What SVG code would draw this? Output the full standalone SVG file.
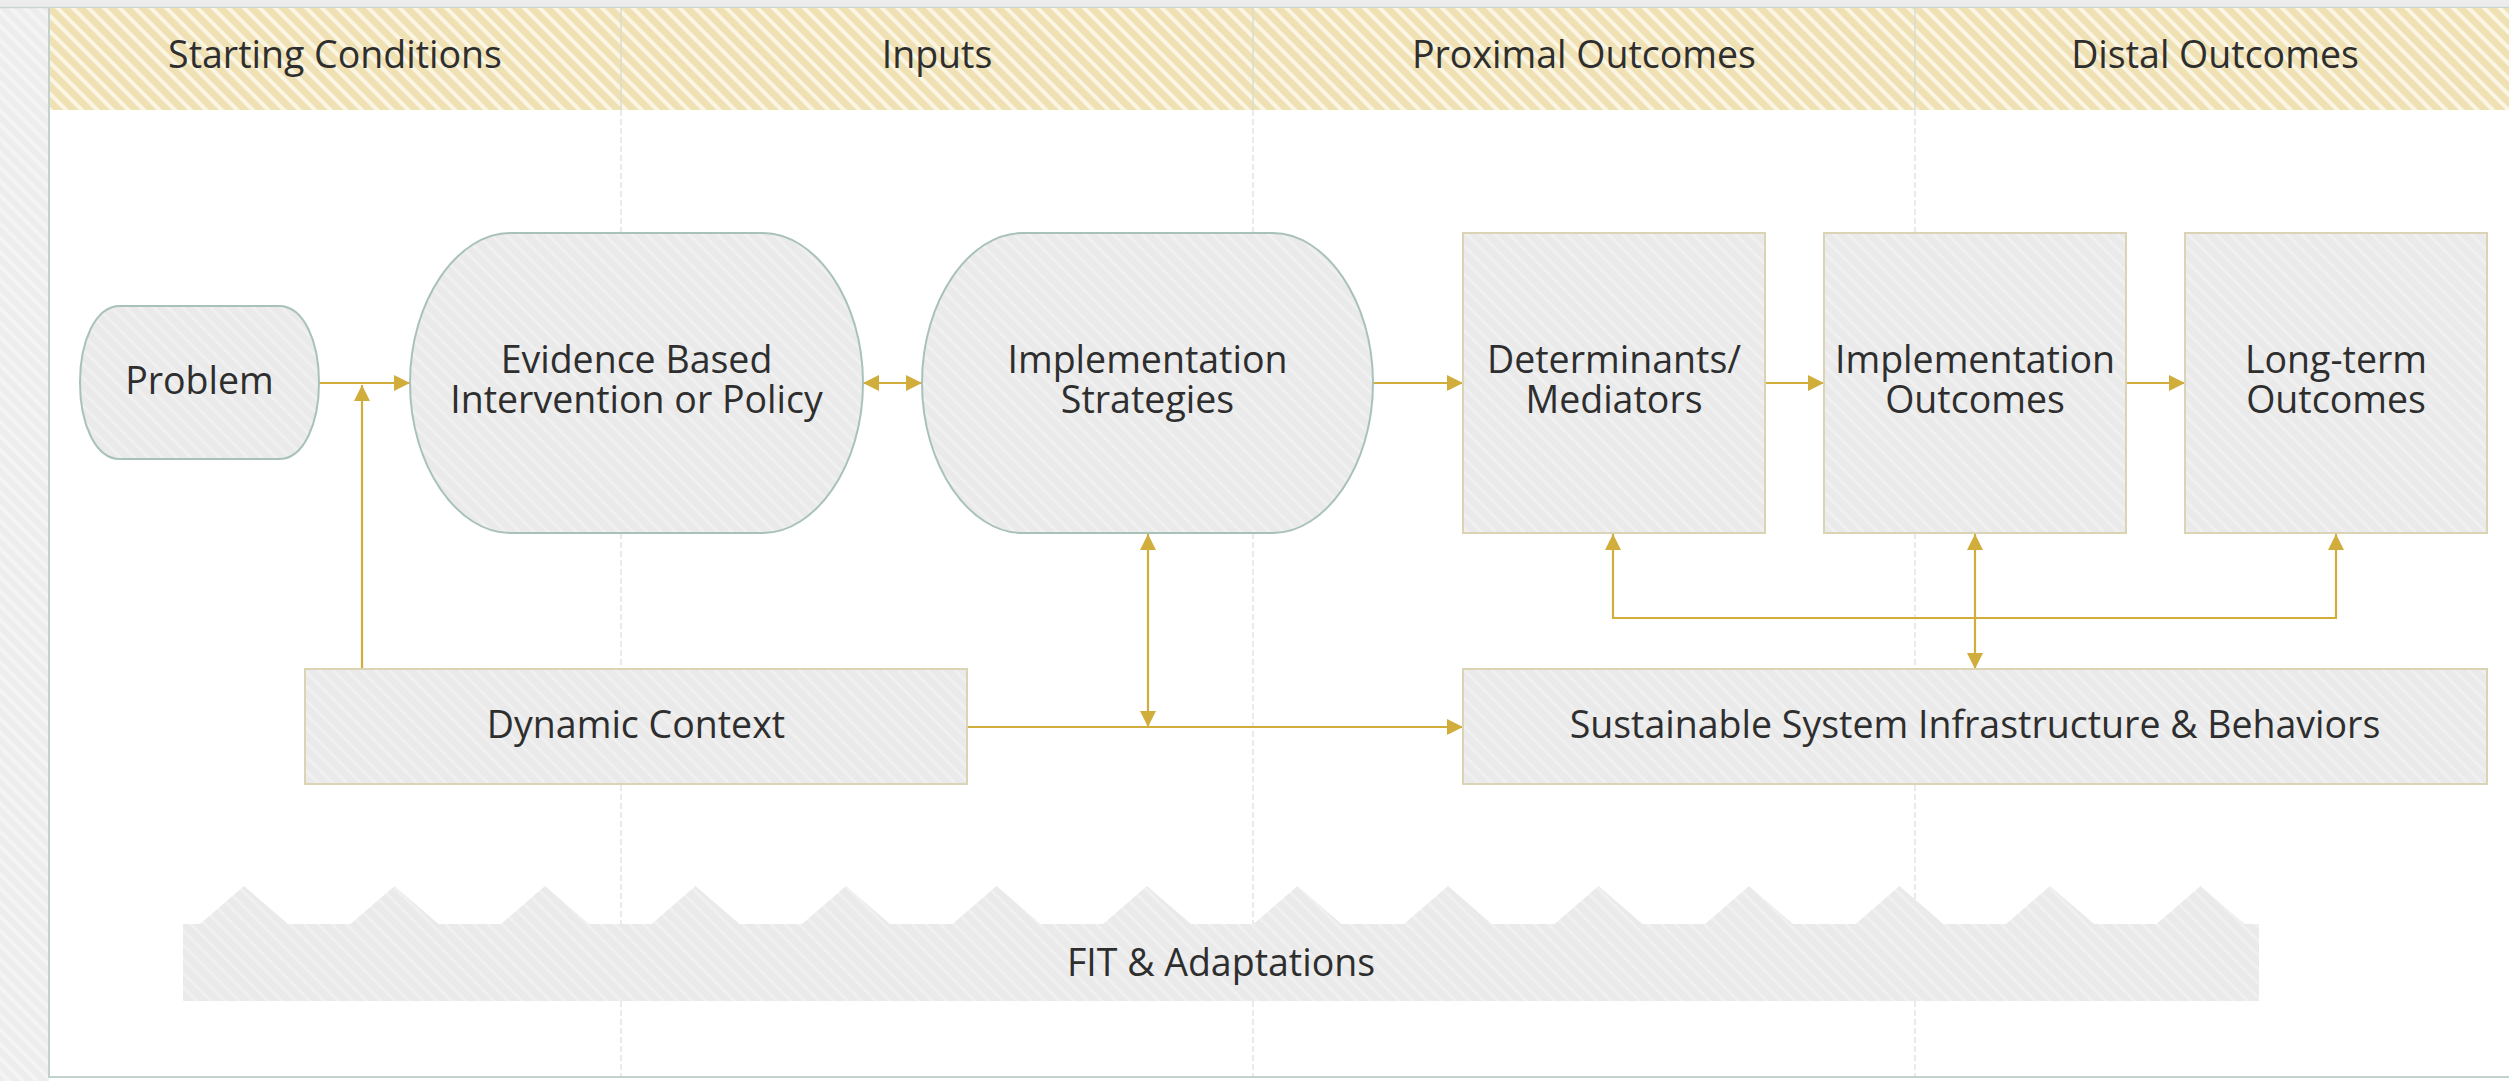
<svg xmlns="http://www.w3.org/2000/svg" width="2509" height="1081" viewBox="0 0 2509 1081">
  <defs>
    <pattern id="hatchHeader" width="11" height="11" patternUnits="userSpaceOnUse" patternTransform="rotate(-45)">
      <rect width="11" height="11" fill="#EFE1B3"/>
      <rect width="4" height="11" fill="#FBF5E4"/>
    </pattern>
    <pattern id="hatchNode" width="10" height="10" patternUnits="userSpaceOnUse" patternTransform="rotate(-45)">
      <rect width="10" height="10" fill="#EAEAEA"/>
      <rect width="3" height="10" fill="#F0F0F0"/>
    </pattern>
    <pattern id="hatchSide" width="10" height="10" patternUnits="userSpaceOnUse" patternTransform="rotate(-45)">
      <rect width="10" height="10" fill="#EDEDED"/>
      <rect width="4" height="10" fill="#F4F4F4"/>
    </pattern>
    <marker id="arr" viewBox="0 0 10 10" refX="10" refY="5" markerWidth="17" markerHeight="16" markerUnits="userSpaceOnUse" orient="auto-start-reverse">
      <path d="M0,0 L10,5 L0,10 Z" fill="#D1AD3B"/>
    </marker>
    <style>
      .lbl { font-family: "Open Sans", "Noto Sans", "Liberation Sans", sans-serif; font-size: 37.5px; fill: #2E2E2E; text-anchor: middle; }
      .round { fill: url(#hatchNode); stroke: #A9C2B9; stroke-width: 2; }
      .box { fill: url(#hatchNode); stroke: #DAD4B4; stroke-width: 2; }
      .conn { fill: none; stroke: #D1AD3B; stroke-width: 2.2; }
      .div { stroke: #E2E4E3; stroke-width: 1.5; stroke-dasharray: 6 3; }
      .hdiv { stroke: #D8DCCF; stroke-width: 1.5; }
    </style>
  </defs>

  <!-- background frame -->
  <g id="frame">
    <rect x="0" y="0" width="2509" height="1081" fill="#FFFFFF"/>
    <rect x="0" y="0" width="2509" height="8" fill="#ECECEC"/>
    <rect x="0" y="8" width="49" height="1073" fill="url(#hatchSide)"/>
    <line x1="49" y1="8" x2="49" y2="1078" stroke="#C3D2CC" stroke-width="2"/>
    <line x1="0" y1="7.5" x2="2509" y2="7.5" stroke="#C9D5D0" stroke-width="1.5"/>
    <line x1="49" y1="1077" x2="2509" y2="1077" stroke="#C3D2CC" stroke-width="2"/>
    <rect x="50" y="8" width="2459" height="102" fill="url(#hatchHeader)"/>
    <line x1="621" y1="110" x2="621" y2="1076" class="div"/>
    <line x1="1253" y1="110" x2="1253" y2="1076" class="div"/>
    <line x1="1915" y1="110" x2="1915" y2="1076" class="div"/>
    <line x1="621" y1="8" x2="621" y2="110" class="hdiv"/>
    <line x1="1253" y1="8" x2="1253" y2="110" class="hdiv"/>
    <line x1="1915" y1="8" x2="1915" y2="110" class="hdiv"/>
  </g>

  <g id="headers">
    <text class="lbl" x="335" y="68">Starting Conditions</text>
    <text class="lbl" x="937" y="68">Inputs</text>
    <text class="lbl" x="1584" y="68">Proximal Outcomes</text>
    <text class="lbl" x="2215" y="68">Distal Outcomes</text>
  </g>

  <!-- connectors -->
  <g id="connectors">
    <path class="conn" d="M319,383 H410" marker-end="url(#arr)"/>
    <path class="conn" d="M362,669 V385" marker-end="url(#arr)"/>
    <path class="conn" d="M863,383 H922" marker-start="url(#arr)" marker-end="url(#arr)"/>
    <path class="conn" d="M1373,383 H1463" marker-end="url(#arr)"/>
    <path class="conn" d="M1765,383 H1824" marker-end="url(#arr)"/>
    <path class="conn" d="M2126,383 H2185" marker-end="url(#arr)"/>
    <path class="conn" d="M967,727 H1463" marker-end="url(#arr)"/>
    <path class="conn" d="M1148,534 V727" marker-start="url(#arr)" marker-end="url(#arr)"/>
    <path class="conn" d="M1613,534 V618 H2336 V534" marker-start="url(#arr)" marker-end="url(#arr)"/>
    <path class="conn" d="M1975,534 V669" marker-start="url(#arr)" marker-end="url(#arr)"/>
  </g>

  <g id="problem">
    <path class="round" d="M120,306 H279 C304,306 319,342 319,382.5 C319,423 304,459 279,459 H120 C95,459 80,423 80,382.5 C80,342 95,306 120,306 Z"/>
    <text class="lbl" x="199.5" y="394">Problem</text>
  </g>

  <g id="evidence">
    <path class="round" d="M510,233 H763 C815,233 863,300 863,383 C863,466 815,533 763,533 H510 C458,533 410,466 410,383 C410,300 458,233 510,233 Z"/>
    <text class="lbl" x="636.5" y="373">Evidence Based<tspan x="636.5" dy="40">Intervention or Policy</tspan></text>
  </g>

  <g id="strategies">
    <path class="round" d="M1022,233 H1273 C1325,233 1373,300 1373,383 C1373,466 1325,533 1273,533 H1022 C970,533 922,466 922,383 C922,300 970,233 1022,233 Z"/>
    <text class="lbl" x="1147.5" y="373">Implementation<tspan x="1147.5" dy="40">Strategies</tspan></text>
  </g>

  <g id="determinants">
    <rect class="box" x="1463" y="233" width="302" height="300"/>
    <text class="lbl" x="1614" y="373">Determinants/<tspan x="1614" dy="40">Mediators</tspan></text>
  </g>

  <g id="impl-outcomes">
    <rect class="box" x="1824" y="233" width="302" height="300"/>
    <text class="lbl" x="1975" y="373">Implementation<tspan x="1975" dy="40">Outcomes</tspan></text>
  </g>

  <g id="longterm">
    <rect class="box" x="2185" y="233" width="302" height="300"/>
    <text class="lbl" x="2336" y="373">Long-term<tspan x="2336" dy="40">Outcomes</tspan></text>
  </g>

  <g id="dynamic-context">
    <rect class="box" x="305" y="669" width="662" height="115"/>
    <text class="lbl" x="636" y="738">Dynamic Context</text>
  </g>

  <g id="sustainable">
    <rect class="box" x="1463" y="669" width="1024" height="115"/>
    <text class="lbl" x="1975" y="738">Sustainable System Infrastructure &amp; Behaviors</text>
  </g>

  <g id="fit">
    <path fill="url(#hatchNode)" d="M183,924 H200 L244,886 L288,924 H350.5 L394.5,886 L438.5,924 H501 L545,886 L589,924 H651.5 L695.5,886 L739.5,924 H802 L846,886 L890,924 H952.5 L996.5,886 L1040.5,924 H1103 L1147,886 L1191,924 H1253.5 L1297.5,886 L1341.5,924 H1404 L1448,886 L1492,924 H1554.5 L1598.5,886 L1642.5,924 H1705 L1749,886 L1793,924 H1855.5 L1899.5,886 L1943.5,924 H2006 L2050,886 L2094,924 H2156.5 L2200.5,886 L2244.5,924 H2259 V1001 H183 Z"/>
    <text class="lbl" x="1221" y="976">FIT &amp; Adaptations</text>
  </g>
</svg>
